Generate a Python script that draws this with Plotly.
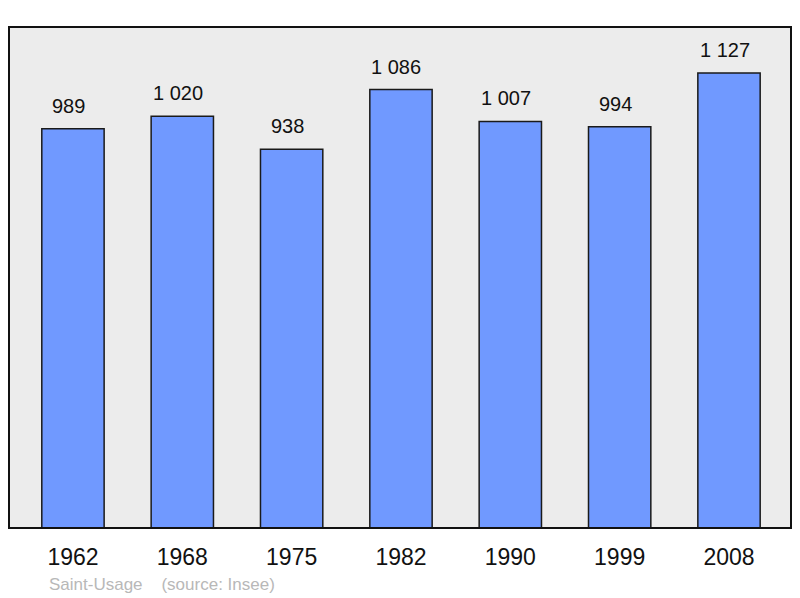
import plotly.graph_objects as go

years = ["1962", "1968", "1975", "1982", "1990", "1999", "2008"]
population = [989, 1020, 938, 1086, 1007, 994, 1127]
labels = ["989", "1 020", "938", "1 086", "1 007", "994", "1 127"]

xs = list(range(len(years)))
font = "Liberation Sans, Arial, sans-serif"

fig = go.Figure(go.Bar(
    x=xs, y=population, width=0.57,
    marker=dict(color="#7099ff", line=dict(color="#1a1a1a", width=1.5)),
    hoverinfo="skip",
))

for x, v, t in zip(xs, population, labels):
    fig.add_annotation(x=x, y=v, text=t, showarrow=False, yanchor="bottom",
                       yshift=10, xshift=-4.5,
                       font=dict(family=font, size=20, color="#111"))

fig.add_annotation(xref="paper", yref="paper", x=(47 - 9) / 782, y=(528 - 584) / 501,
                   xanchor="left", yanchor="middle", showarrow=False,
                   text="Saint-Usage&nbsp;&nbsp;&nbsp;&nbsp;(source: Insee)",
                   font=dict(family=font, size=17, color="#b8b8b8"))

fig.add_shape(type="rect", xref="paper", yref="paper", x0=0, y0=0, x1=1, y1=1,
              line=dict(color="#111", width=2), layer="above")

fig.update_layout(
    width=800, height=598,
    margin=dict(l=9, r=9, t=27, b=70),
    paper_bgcolor="white", plot_bgcolor="#ececec",
    showlegend=False,
    xaxis=dict(range=[-0.585, 6.567], tickvals=xs, ticktext=years,
               showgrid=False, zeroline=False, showline=False, ticks="",
               tickfont=dict(family=font, size=23, color="#111"),
               ticklabelstandoff=13),
    yaxis=dict(range=[0, 1241], showgrid=False, zeroline=False,
               showticklabels=False, ticks=""),
)

fig.write_html("out.html", config={"displayModeBar": False},
               post_script="document.body.style.margin='0';document.body.style.overflow='hidden';")
